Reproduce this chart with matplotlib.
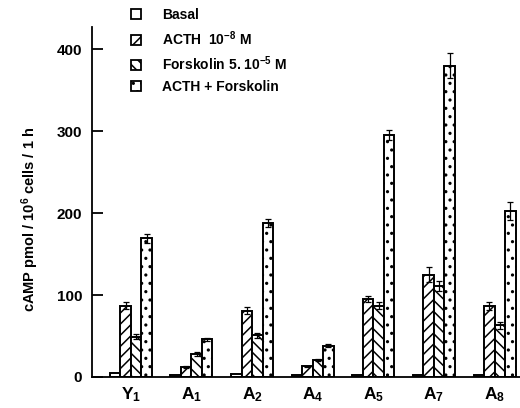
import numpy as np
import matplotlib.pyplot as plt
from matplotlib.patches import Patch

plt.rcParams['font.family'] = ['Liberation Sans', 'DejaVu Sans']
plt.rcParams['font.weight'] = 'bold'
plt.rcParams['mathtext.default'] = 'regular'
plt.rcParams['hatch.linewidth'] = 1.1

# cell lines
groups = ["Y$_1$", "A$_1$", "A$_2$", "A$_4$", "A$_5$", "A$_7$", "A$_8$"]

# cAMP pmol / 10^6 cells / 1 h  (mean values, error = SE)
basal = [5, 3, 4, 3, 3, 3, 3]
acth = [87, 12, 81, 13, 95, 125, 87]
acth_err = [4, 1, 4, 1, 4, 9, 5]
forsk = [49, 28, 51, 21, 87, 111, 63]
forsk_err = [3, 2, 3, 1, 4, 6, 4]
both = [169, 46, 188, 38, 295, 380, 202]
both_err = [5, 2, 5, 2, 6, 15, 11]

legend_labels = ["Basal", "ACTH  10$^{-8}$ M", "Forskolin 5. 10$^{-5}$ M",
                 "ACTH + Forskolin"]

fig = plt.figure(figsize=(5.2, 4.08), dpi=100)
ax = fig.add_axes([92/520, 31/408, 428/520, 350/408])

x = np.arange(len(groups))
w = 0.173
series = [(basal, None, ''), (acth, acth_err, '///'),
          (forsk, forsk_err, '\\\\\\'), (both, both_err, '..')]
handles = []
for k, (vals, err, hatch) in enumerate(series):
    pos = x + (k - 1.5) * w
    ax.bar(pos, vals, w, color='white', edgecolor='black', linewidth=1.4,
           hatch=hatch)
    if err is not None:
        ax.errorbar(pos, vals, yerr=err, fmt='none', ecolor='black',
                    elinewidth=0.9, capsize=2.5, capthick=0.9)
    handles.append(Patch(facecolor='white', edgecolor='black', linewidth=1.3,
                         hatch=hatch))

ax.set_xlim(-0.64, 6.42)
ax.set_ylim(0, 427)
ax.set_yticks([0, 100, 200, 300, 400])
ax.tick_params(axis='y', direction='in', length=8, width=1.3, pad=7,
               labelsize=11)
ax.set_xticks(x)
ax.set_xticklabels(groups, fontsize=12.5)
ax.tick_params(axis='x', length=0, pad=6)
ax.spines['top'].set_visible(False)
ax.spines['right'].set_visible(False)
ax.spines['left'].set_linewidth(1.3)
ax.spines['bottom'].set_linewidth(1.3)

ax.set_ylabel("cAMP pmol / 10$^6$ cells / 1 h", fontsize=10.5,
              fontweight='bold', labelpad=12)
ax.yaxis.set_label_coords(-0.118, 0.45)

fig.legend(handles, legend_labels, loc='upper left',
           bbox_to_anchor=(131/520, 1 - 8/408), frameon=False, fontsize=10,
           handlelength=0.75, handleheight=0.75, handletextpad=1.5,
           labelspacing=0.5, borderpad=0, borderaxespad=0)

fig.savefig('out.png', dpi=100)
